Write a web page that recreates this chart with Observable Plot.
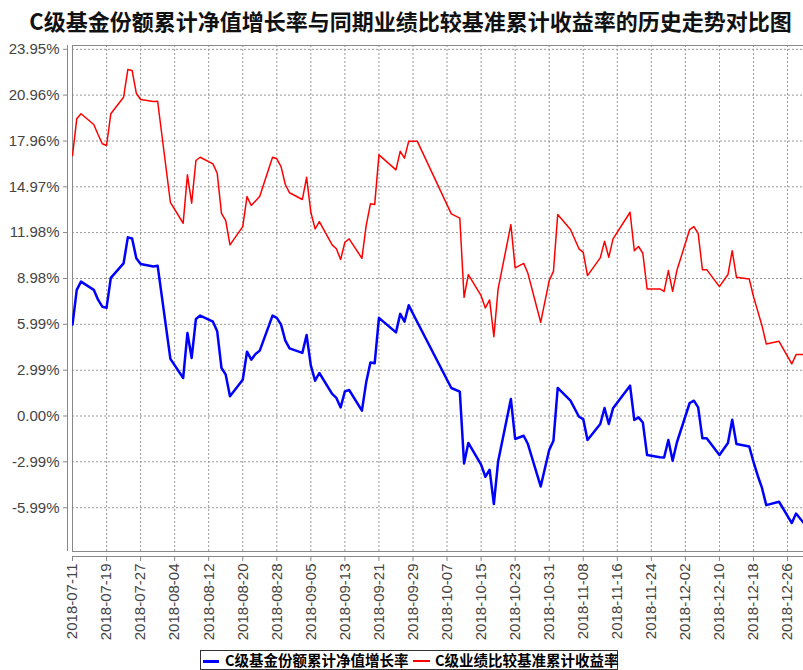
<!DOCTYPE html>
<html><head><meta charset="utf-8">
<script src="https://cdn.jsdelivr.net/npm/d3@7"></script>
<script src="https://cdn.jsdelivr.net/npm/@observablehq/plot@0.6"></script>
<style>
body{margin:0;background:#fff;width:803px;height:670px;overflow:hidden;position:relative;font-family:"Liberation Sans",Arial,sans-serif}
#title{position:absolute;left:0;top:0;width:803px;height:40px;line-height:40px;text-align:center;padding-left:18px;box-sizing:border-box;font-family:"Noto Sans CJK SC";font-weight:bold;font-size:22px;color:#111;white-space:nowrap}
#chart{position:absolute;left:0;top:40px}
#legend{position:absolute;left:200px;top:650px;width:418px;height:20px;border:1px solid #333;box-sizing:border-box;font-family:"Noto Sans CJK SC";font-weight:bold;font-size:14.5px;white-space:nowrap;background:#fff}
#legend .sw{position:absolute;top:9px}
#legend .tx{position:absolute;top:0;line-height:18px}
</style></head>
<body>
<div id="title"></div>
<div id="chart"></div>
<div id="legend"></div>
<script>
const titleText = "C级基金份额累计净值增长率与同期业绩比较基准累计收益率的历史走势对比图";
const seriesNames = ["C级基金份额累计净值增长率", "C级业绩比较基准累计收益率"];
const seriesColors = ["#0000ff", "#ff0000"];

const dates = [
"2018-07-11","2018-07-12","2018-07-13","2018-07-16","2018-07-17","2018-07-18","2018-07-19","2018-07-20","2018-07-23","2018-07-24","2018-07-25","2018-07-26","2018-07-27","2018-07-30","2018-07-31",
"2018-08-03","2018-08-06","2018-08-07","2018-08-08","2018-08-09","2018-08-10","2018-08-13","2018-08-14","2018-08-15","2018-08-16","2018-08-17","2018-08-20","2018-08-21","2018-08-22","2018-08-23","2018-08-24","2018-08-27","2018-08-28","2018-08-29","2018-08-30","2018-08-31",
"2018-09-03","2018-09-04","2018-09-05","2018-09-06","2018-09-07","2018-09-10","2018-09-11","2018-09-12","2018-09-13","2018-09-14","2018-09-17","2018-09-18","2018-09-19","2018-09-20","2018-09-21","2018-09-25","2018-09-26","2018-09-27","2018-09-28","2018-09-30",
"2018-10-08","2018-10-10","2018-10-11","2018-10-12","2018-10-15","2018-10-16","2018-10-17","2018-10-18","2018-10-19","2018-10-22","2018-10-23","2018-10-25","2018-10-26","2018-10-29","2018-10-31",
"2018-11-01","2018-11-02","2018-11-05","2018-11-07","2018-11-08","2018-11-09","2018-11-12","2018-11-13","2018-11-14","2018-11-15","2018-11-19","2018-11-20","2018-11-21","2018-11-22","2018-11-23","2018-11-26","2018-11-27","2018-11-28","2018-11-29","2018-11-30",
"2018-12-03","2018-12-04","2018-12-05","2018-12-06","2018-12-07","2018-12-10","2018-12-12","2018-12-13","2018-12-14","2018-12-17","2018-12-18","2018-12-19","2018-12-20","2018-12-21","2018-12-24","2018-12-27","2018-12-28","2018-12-31"
];

const navGrowth = [
5.97, 8.24, 8.78, 8.24, 7.60, 7.14, 7.06, 9.02, 9.97, 11.67, 11.59, 10.30, 9.93, 9.76, 9.82,
3.73, 2.48, 5.42, 3.79, 6.34, 6.56, 6.16, 5.53, 3.14, 2.70, 1.29, 2.37, 4.20, 3.68, 4.05, 4.27, 6.56, 6.41, 5.97, 4.92, 4.42,
4.12, 5.29, 3.29, 2.31, 2.81, 1.44, 1.18, 0.56, 1.61, 1.70, 0.35, 2.20, 3.50, 3.44, 6.41, 5.46, 6.67, 6.16, 7.23, 6.14,
1.83, 1.59, -3.10, -1.76, -3.18, -3.97, -3.51, -5.75, -2.97, 1.11, -1.50, -1.29, -1.83, -4.60, -2.22,
-1.61, 1.83, 1.00, -0.05, -0.20, -1.57, -0.52, 0.52, -0.52, 0.50, 1.98, -0.26, -0.09, -0.42, -2.55, -2.69, -2.71, -1.57, -2.92, -1.73,
0.85, 1.00, 0.56, -1.46, -1.46, -2.55, -1.76, -0.24, -1.83, -1.99, -3.00, -3.90, -4.70, -5.82, -5.60, -6.99, -6.37, -7.40
];

const benchmark = [
17.01, 19.41, 19.74, 19.04, 18.39, 17.78, 17.67, 19.74, 20.82, 22.63, 22.57, 21.08, 20.67, 20.54, 20.56,
13.96, 12.59, 15.75, 13.90, 16.69, 16.90, 16.47, 15.86, 13.24, 12.76, 11.18, 12.37, 14.33, 13.75, 14.05, 14.35, 16.90, 16.80, 16.29, 15.12, 14.58,
14.14, 15.59, 13.31, 12.22, 12.70, 11.18, 10.92, 10.22, 11.35, 11.57, 10.30, 12.44, 13.86, 13.81, 17.06, 16.08, 17.29, 16.84, 17.95, 17.95,
13.20, 12.92, 7.75, 9.24, 7.86, 7.06, 7.58, 5.18, 8.30, 12.50, 9.67, 9.97, 9.32, 6.12, 8.84,
9.45, 13.16, 12.18, 10.92, 10.69, 9.17, 10.33, 11.41, 10.37, 11.57, 13.31, 10.80, 11.07, 10.63, 8.30, 8.30, 8.14, 9.50, 8.14, 9.50,
12.18, 12.37, 11.93, 9.56, 9.56, 8.45, 9.24, 10.80, 9.06, 8.95, 7.80, 6.85, 5.90, 4.71, 4.88, 3.40, 4.01, 4.01
];

const xTickDates = ["2018-07-11","2018-07-19","2018-07-27","2018-08-04","2018-08-12","2018-08-20","2018-08-28","2018-09-05","2018-09-13","2018-09-21","2018-09-29","2018-10-07","2018-10-15","2018-10-23","2018-10-31","2018-11-08","2018-11-16","2018-11-24","2018-12-02","2018-12-10","2018-12-18","2018-12-26"];
const yTicks = [-5.99, -2.99, 0, 2.99, 5.99, 8.98, 11.98, 14.97, 17.96, 20.96, 23.95];
const yTickLabels = ["-5.99%","-2.99%","0.00%","2.99%","5.99%","8.98%","11.98%","14.97%","17.96%","20.96%","23.95%"];
const yDomain = [-8.85, 24.2];
const xStart = "2018-07-11";
const xSpanDays = 171.75;

const parse = d3.utcParse("%Y-%m-%d");
const rows = dates.map((d, i) => ({date: parse(d), nav: navGrowth[i], bench: benchmark[i]}));
const x0 = parse(xStart);
const x1 = new Date(x0.getTime() + xSpanDays * 864e5);
const xt = xTickDates.map(parse);

document.getElementById("title").textContent = titleText;

const chart = Plot.plot({
  width: 803, height: 605,
  marginLeft: 72, marginRight: 0, marginTop: 5, marginBottom: 94,
  x: {type: "utc", domain: [x0, x1]},
  y: {domain: yDomain},
  style: {fontFamily: "'Liberation Sans', Arial, sans-serif", fontSize: "15px", color: "#444", background: "#fff", overflow: "visible"},
  marks: [
    Plot.ruleY(yTicks, {stroke: "#999", strokeDasharray: "2,2"}),
    Plot.ruleX(xt, {stroke: "#999", strokeDasharray: "2,2"}),
    Plot.ruleY([yDomain[1]], {stroke: "#888"}),
    Plot.ruleY([yDomain[0]], {stroke: "#888"}),
    Plot.ruleX([x0], {stroke: "#888"}),
    Plot.ruleX([x0], {stroke: "#888", dx: -5}),
    Plot.ruleY([yDomain[0]], {stroke: "#888", dy: 5}),
    Plot.axisY(yTicks, {anchor: "left", tickSize: 4, dx: -5, tickPadding: 4, stroke: "#888", fill: "#444", fontSize: 15,
      tickFormat: d => yTickLabels[yTicks.indexOf(d)]}),
    Plot.axisX(xt, {anchor: "bottom", tickSize: 5, dy: 5, stroke: "#888", tickFormat: () => ""}),
    Plot.text(xt, {x: d => d, frameAnchor: "bottom", dy: 12, rotate: -90, textAnchor: "end", lineAnchor: "middle",
      text: (d, i) => xTickDates[i], fill: "#444", fontSize: 15}),
    Plot.line(rows, {x: "date", y: "bench", stroke: seriesColors[1], strokeWidth: 1.5, clip: true}),
    Plot.line(rows, {x: "date", y: "nav", stroke: seriesColors[0], strokeWidth: 2.5, clip: true})
  ]
});
document.getElementById("chart").appendChild(chart);

const lg = document.getElementById("legend");
const items = [
  {sw: 2, swW: 16, swH: 2.5, tx: 24},
  {sw: 212, swW: 17, swH: 1.5, tx: 234}
];
items.forEach((it, i) => {
  const s = document.createElement("span");
  s.className = "sw";
  s.style.left = it.sw + "px"; s.style.width = it.swW + "px"; s.style.height = it.swH + "px";
  s.style.background = seriesColors[i];
  lg.appendChild(s);
  const t = document.createElement("span");
  t.className = "tx"; t.style.left = it.tx + "px";
  t.textContent = seriesNames[i];
  lg.appendChild(t);
});
</script>
</body></html>
